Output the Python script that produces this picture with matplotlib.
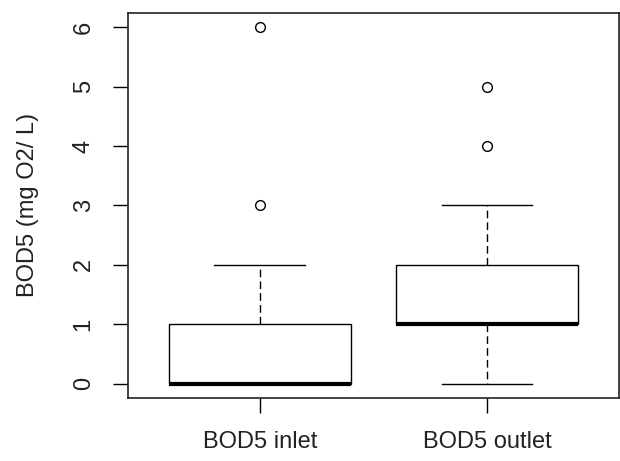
import matplotlib
matplotlib.use('Agg')
import matplotlib.pyplot as plt

plt.rcParams['font.family'] = ['Liberation Sans', 'DejaVu Sans']

# BOD5 summary statistics (mg O2/L) per sampling point
labels = ['BOD5 inlet', 'BOD5 outlet']
whisker_low = [0, 0]
quartile_1 = [0, 1]
medians = [0, 1]
quartile_3 = [1, 2]
whisker_high = [2, 3]
outliers = [[3, 6], [4, 5]]

stats = [
    dict(label=labels[i], whislo=whisker_low[i], q1=quartile_1[i], med=medians[i],
         q3=quartile_3[i], whishi=whisker_high[i], fliers=outliers[i])
    for i in range(len(labels))
]

fig = plt.figure(figsize=(6.2, 4.61), dpi=100)
ax = fig.add_axes([0.2065, 0.137, 0.7915, 0.835])

ax.bxp(
    stats, positions=[1, 2], widths=0.8, capwidths=0.4, patch_artist=True,
    boxprops=dict(facecolor='white', edgecolor='black', linewidth=1),
    medianprops=dict(color='black', linewidth=3, solid_capstyle='butt'),
    whiskerprops=dict(color='black', linewidth=1, linestyle=(0, (5.5, 3))),
    capprops=dict(color='black', linewidth=1),
    flierprops=dict(marker='o', markersize=7, markerfacecolor='none',
                    markeredgecolor='black', markeredgewidth=1),
)

ax.set_xlim(0.42, 2.58)
ax.set_ylim(-0.24, 6.24)
ax.set_yticks(range(0, 7))
ax.set_yticklabels([str(v) for v in range(0, 7)], rotation=90, va='center')
ax.set_xticks([1, 2])
ax.set_xticklabels(labels)
ax.tick_params(axis='both', length=11, width=1, labelsize=17, color='black',
               labelcolor='#222222')
ax.tick_params(axis='y', pad=13)
ax.tick_params(axis='x', pad=13)
ax.set_ylabel('BOD5 (mg O2/ L)', fontsize=17, labelpad=24, color='#222222')

for spine in ax.spines.values():
    spine.set_linewidth(1.2)
    spine.set_color('#222222')

fig.savefig('out.png', dpi=100)
